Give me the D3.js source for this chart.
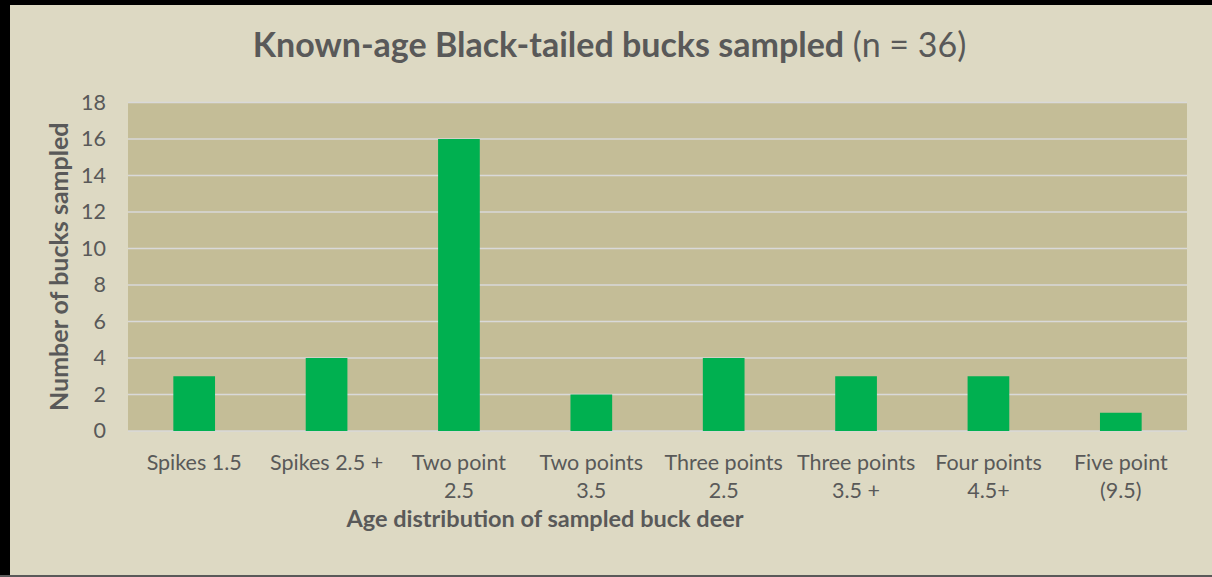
<!DOCTYPE html>
<html>
<head>
<meta charset="utf-8">
<script src="https://cdn.jsdelivr.net/npm/d3@7"></script>
<style>
  html, body { margin: 0; padding: 0; background: #ddd9c3; }
  svg { display: block; }
  text { font-family: Lato, "Open Sans", sans-serif; fill: #595959; }
</style>
</head>
<body>
<svg id="chart" width="1212" height="577"></svg>
<script>
const categories = [
  "Spikes 1.5", "Spikes 2.5 +", "Two point 2.5", "Two points 3.5",
  "Three points 2.5", "Three points 3.5 +", "Four points 4.5+", "Five point (9.5)"
];
const categoryLines = [
  ["Spikes 1.5"], ["Spikes 2.5 +"], ["Two point", "2.5"], ["Two points", "3.5"],
  ["Three points", "2.5"], ["Three points", "3.5 +"], ["Four points", "4.5+"], ["Five point", "(9.5)"]
];
const counts = [3, 4, 16, 2, 4, 3, 3, 1];
const yTicks = [0, 2, 4, 6, 8, 10, 12, 14, 16, 18];
const titleBold = "Known-age Black-tailed bucks sampled";
const titleNormal = " (n = 36)";
const yTitle = "Number of bucks sampled";
const xTitle = "Age distribution of sampled buck deer";

const W = 1212, H = 577;
const plot = { left: 128, right: 1187, top: 102.5, bottom: 431 };

const svg = d3.select("#chart");

// background and frame
svg.append("rect").attr("x", 0).attr("y", 0).attr("width", W).attr("height", H).attr("fill", "#ddd9c3");
svg.append("rect").attr("x", 0).attr("y", 0).attr("width", 10).attr("height", H).attr("fill", "#000");
svg.append("rect").attr("x", 0).attr("y", 0).attr("width", W).attr("height", 5).attr("fill", "#000");
svg.append("rect").attr("x", 0).attr("y", H - 2).attr("width", W).attr("height", 2).attr("fill", "#595959");

const x = d3.scaleBand().domain(categories).range([plot.left, plot.right]).paddingInner(0.685).paddingOuter(0.3425);
const y = d3.scaleLinear().domain([0, 18]).range([plot.bottom, plot.top]);

// plot area
svg.append("rect")
  .attr("x", plot.left).attr("y", plot.top)
  .attr("width", plot.right - plot.left).attr("height", plot.bottom - plot.top)
  .attr("fill", "#c4bd97");

// gridlines
svg.append("g").selectAll("line").data(yTicks).join("line")
  .attr("x1", plot.left).attr("x2", plot.right)
  .attr("y1", d => y(d)).attr("y2", d => y(d))
  .attr("stroke", "#d9d9d9").attr("stroke-width", 1.5);

// bars
svg.append("g").selectAll("rect").data(counts).join("rect")
  .attr("x", (d, i) => x(categories[i]))
  .attr("width", x.bandwidth())
  .attr("y", d => y(d))
  .attr("height", d => y(0) - y(d))
  .attr("fill", "#00b050");

// y axis
const yAxis = d3.axisLeft(y).tickValues(yTicks).tickSize(0).tickPadding(22);
const yg = svg.append("g").attr("transform", `translate(${plot.left},0)`).call(yAxis);
yg.select(".domain").remove();
yg.selectAll("text").style("font-size", "21.5px").style("fill", "#595959").style("font-family", "Lato, sans-serif");

// x axis labels
const xAxis = d3.axisBottom(x).tickSize(0).tickFormat("");
const xg = svg.append("g").attr("transform", `translate(0,${plot.bottom})`).call(xAxis);
xg.select(".domain").remove();
xg.selectAll(".tick").each(function(d, i) {
  const t = d3.select(this).append("text")
    .attr("text-anchor", "middle")
    .style("font-size", "21.5px")
    .style("fill", "#595959");
  categoryLines[i].forEach((line, j) => {
    t.append("tspan").attr("x", 0).attr("y", 39 + j * 28).text(line);
  });
});

// title
const title = svg.append("text")
  .attr("x", 609.5).attr("y", 57)
  .attr("text-anchor", "middle")
  .style("font-size", "34px");
title.append("tspan").style("font-weight", "bold").text(titleBold);
title.append("tspan").text(titleNormal);

// y axis title
svg.append("text")
  .attr("transform", `translate(68,${(plot.top + plot.bottom) / 2}) rotate(-90)`)
  .attr("text-anchor", "middle")
  .style("font-size", "25px").style("font-weight", "bold")
  .text(yTitle);

// x axis title
svg.append("text")
  .attr("x", 545).attr("y", 527)
  .attr("text-anchor", "middle")
  .style("font-size", "23.5px").style("font-weight", "bold")
  .text(xTitle);
</script>
</body>
</html>
